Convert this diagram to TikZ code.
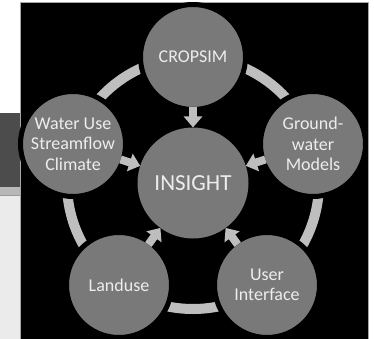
\documentclass[tikz,border=0pt]{standalone}
\usepackage{fontspec}
\setmainfont{Carlito}
\usetikzlibrary{arrows.meta}
\definecolor{ringgray}{HTML}{BEBEBE}
\definecolor{ballgray}{HTML}{797979}
\definecolor{textgray}{HTML}{EDEDED}
\tikzset{
  ball/.style = {circle, fill=ballgray, draw=black, line width=5pt, minimum size=105pt,
                 inner sep=0pt, outer sep=-2.5pt, text=textgray, align=center,
                 font=\fontsize{18}{20.5}\selectfont},
  hub/.style  = {circle, fill=ballgray, minimum size=111pt, inner sep=0pt, outer sep=0pt,
                 text=textgray, font=\fontsize{23}{26}\selectfont},
  flow/.style = {draw=ringgray, line width=8pt, -{Triangle[width=18pt, length=11pt]}}
}

\begin{document}
\begin{tikzpicture}[x=1pt, y=-1pt]
\useasboundingbox (0,0) rectangle (374,339);
% page behind
\fill[white] (0,0) rectangle (374,339);
\fill[black!70] (0,113) rectangle (21,187);
\fill[black!28] (0,187) rectangle (21,195);
\fill[black!8] (0,195) rectangle (21,339);
\draw[black!40, line width=0.6pt] (0,195) -- (21,195);
\filldraw[fill=black, draw=black!35, line width=1pt] (20.5,3) rectangle (368.5,341);
% ring
\draw[ringgray, line width=10pt] (193,183) circle (126pt);
% nodes
\node[hub]  (IN) at (193,183) {INSIGHT};
\node[ball] (CR) at (193,57)  {CROPSIM};
\node[ball] (GW) at (313,144) {Ground-\\water\\Models};
\node[ball] (UI) at (267,285) {User\\Interface};
\node[ball] (LU) at (119,285) {Landuse};
\node[ball] (WU) at (73,144)  {Water Use\\Streamflow\\Climate};
% arrows
\draw[flow] (CR) -- (IN);
\draw[flow] (GW) -- (IN);
\draw[flow] (UI) -- (IN);
\draw[flow] (LU) -- (IN);
\draw[flow] (WU) -- (IN);
\end{tikzpicture}
\end{document}
